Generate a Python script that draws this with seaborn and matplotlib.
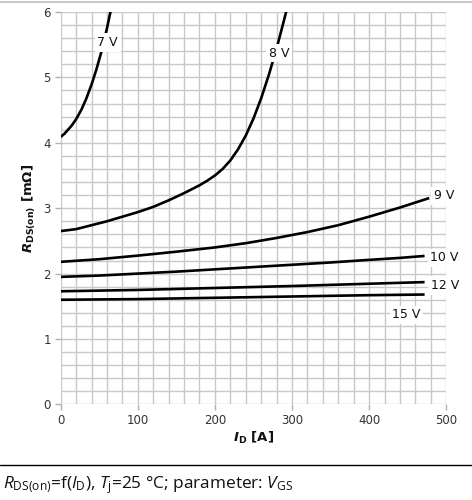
import numpy as np
import pandas as pd
import matplotlib
matplotlib.use("Agg")
import matplotlib.pyplot as plt
import seaborn as sns

# ---- data ----
vgs_labels = ["7 V", "8 V", "9 V", "10 V", "12 V", "15 V"]

id_7v = [0, 5, 14, 20, 27, 33, 40, 46, 53, 60, 64.5, 66]
r_7v = [4.09, 4.14, 4.26, 4.36, 4.51, 4.67, 4.89, 5.11, 5.40, 5.75, 6.0, 6.09]

id_8v = [0, 20, 40, 60, 80, 100, 120, 140, 160, 180, 190, 200, 210, 220, 230,
         240, 250, 260, 270, 280, 290, 293]
r_8v = [2.65, 2.68, 2.74, 2.80, 2.87, 2.94, 3.02, 3.12, 3.23, 3.35, 3.42, 3.50,
        3.60, 3.73, 3.90, 4.11, 4.37, 4.68, 5.04, 5.44, 5.89, 6.03]

id_9v = [0, 50, 100, 150, 200, 240, 280, 320, 360, 400, 440, 478]
r_9v = [2.18, 2.22, 2.275, 2.335, 2.40, 2.465, 2.545, 2.635, 2.74, 2.87, 3.01, 3.155]

id_10v = [0, 50, 100, 150, 200, 250, 300, 350, 400, 440, 472]
r_10v = [1.95, 1.97, 2.00, 2.03, 2.065, 2.10, 2.135, 2.17, 2.21, 2.24, 2.27]

id_12v = [0, 100, 200, 300, 400, 472]
r_12v = [1.73, 1.75, 1.78, 1.81, 1.845, 1.87]

id_15v = [0, 100, 200, 300, 400, 472]
r_15v = [1.60, 1.61, 1.63, 1.65, 1.67, 1.68]

# curve label anchor points (data coords)
label_x = [61.0, 283.5, 497.5, 498.0, 498.0, 448.5]
label_y = [5.53, 5.37, 3.19, 2.24, 1.82, 1.37]

x_ticks = [0, 100, 200, 300, 400, 500]
y_ticks = [0, 1, 2, 3, 4, 5, 6]

series = [(id_7v, r_7v), (id_8v, r_8v), (id_9v, r_9v),
          (id_10v, r_10v), (id_12v, r_12v), (id_15v, r_15v)]
frames = []
for lab, (xs, ys) in zip(vgs_labels, series):
    frames.append(pd.DataFrame({"I_D": xs, "R": ys, "V_GS": lab}))
df = pd.concat(frames, ignore_index=True)

# ---- figure ----
sns.set_theme(style="white")
plt.rcParams["font.family"] = ["DejaVu Sans"]
plt.rcParams["mathtext.fontset"] = "custom"
plt.rcParams["mathtext.rm"] = "Open Sans"
plt.rcParams["mathtext.it"] = "Open Sans:italic"
plt.rcParams["mathtext.bf"] = "Open Sans:bold"

fig = plt.figure(figsize=(4.72, 5.0), dpi=100)
ax = fig.add_axes([0.1286, 0.1912, 0.9453 - 0.1286, 0.976 - 0.1912])

sns.lineplot(data=df, x="I_D", y="R", hue="V_GS", hue_order=vgs_labels,
             palette=["black"] * len(vgs_labels), estimator=None, sort=False,
             legend=False, linewidth=1.9, ax=ax, zorder=3,
             solid_joinstyle="round", solid_capstyle="butt")

ax.set_xlim(0, 500)
ax.set_ylim(0, 6)
ax.set_xticks(x_ticks)
ax.set_yticks(y_ticks)
ax.set_xticks(np.arange(0, 501, 20), minor=True)
ax.set_yticks(np.arange(0, 6.01, 0.2), minor=True)
ax.grid(True, which="both", color="#c8c8c8", linewidth=1.0, zorder=0)
ax.set_axisbelow(True)
for s in ax.spines.values():
    s.set_visible(False)
ax.tick_params(axis="both", which="major", length=4, width=1.0, color="#b0b0b0",
               labelsize=8.5, labelcolor="#333333", pad=3, bottom=True, left=True)
ax.tick_params(axis="both", which="minor", length=0)

ax.set_xlabel(r"$\mathbfit{I}_\mathbf{D}$ [A]", fontsize=9.5, fontweight="bold",
              math_fontfamily="dejavusans", labelpad=2, color="#111111")
ax.set_ylabel(r"$\mathbfit{R}_\mathbf{DS(on)}$ [m$\mathbf{\Omega}$]", fontsize=9.5,
              fontweight="bold", math_fontfamily="dejavusans", labelpad=4,
              color="#111111")

for lab, lx, ly in zip(vgs_labels, label_x, label_y):
    ax.text(lx, ly, lab, fontsize=9, ha="center", va="center", color="#111111",
            zorder=5, clip_on=False,
            bbox=dict(facecolor="white", edgecolor="none", pad=2))

# frame lines of the figure
fig.add_artist(plt.Line2D([0, 1], [1 - 1.5 / 500, 1 - 1.5 / 500],
                          transform=fig.transFigure, color="#bdbdbd", lw=1.2))
fig.add_artist(plt.Line2D([0, 1], [1 - 465 / 500, 1 - 465 / 500],
                          transform=fig.transFigure, color="black", lw=1.0))

fig.text(3 / 472, 1 - 485 / 500,
         r"$R_\mathrm{DS(on)}$=f($I_\mathrm{D}$), $T_\mathrm{j}$=25 °C; parameter: $V_\mathrm{GS}$",
         fontsize=12.4, family="Open Sans", ha="left", va="center", color="#111111")

fig.savefig("out.png", dpi=100)
